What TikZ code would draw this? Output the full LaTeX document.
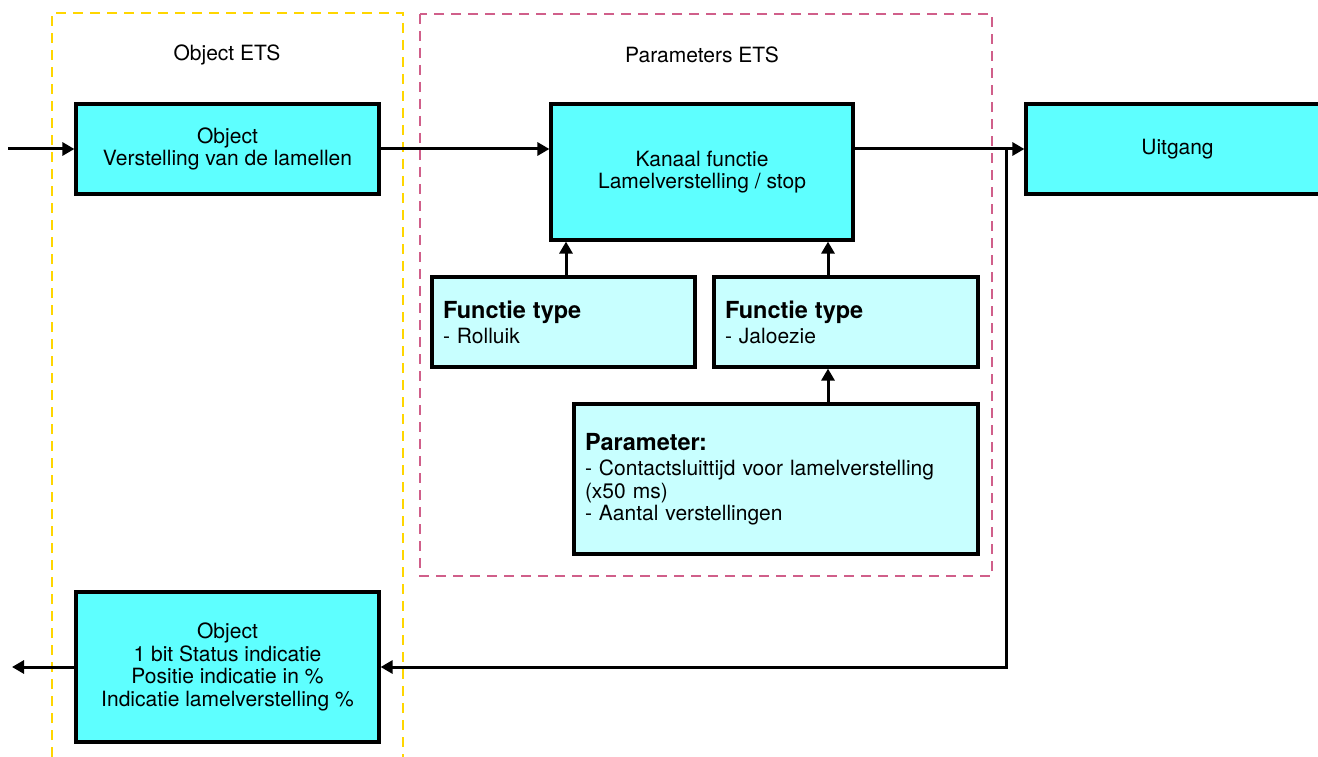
\documentclass[tikz,border=0pt]{standalone}
\usepackage{fontspec}
\setmainfont{TeX Gyre Heros}
\usetikzlibrary{arrows.meta}
\definecolor{cyanA}{RGB}{94,255,255}
\definecolor{cyanB}{RGB}{200,255,255}
\definecolor{ylw}{RGB}{255,214,0}
\definecolor{pnk}{RGB}{208,95,138}
\tikzset{
  base/.style={draw=black, line width=3.2pt, font=\fontsize{21}{22.5}\selectfont, inner sep=0pt},
  dark/.style={base, fill=cyanA, align=center},
  light/.style={base, fill=cyanB, align=left, inner xsep=11pt},
  conn/.style={line width=3pt, -{Triangle[length=12pt,width=13pt]}},
  ybox/.style={draw=ylw, line width=2.6pt, dash pattern=on 10pt off 7pt},
  pbox/.style={draw=pnk, line width=2.6pt, dash pattern=on 10pt off 7pt},
  title/.style={font=\fontsize{21}{22.5}\selectfont, inner sep=0pt}
}
\newcommand{\hdr}[1]{{\fontsize{23.5}{25}\selectfont\bfseries #1}}
\begin{document}
\begin{tikzpicture}[x=1pt,y=-1pt]
\useasboundingbox (0,0) rectangle (1318,757);
\fill[white] (0,0) rectangle (1318,757);
% dashed frames
\draw[ybox] (52,757) -- (52,13) -- (403,13) -- (403,757);
\draw[pbox] (420,14) rectangle (992,576);
\node[title] (t1) at (227,55) {Object ETS};
\node[title] (t2) at (702,55) {Parameters ETS};
% boxes
\node[dark, minimum width=303pt, minimum height=90pt] (obj1) at (227.5,149) {Object\\Verstelling van de lamellen};
\node[dark, minimum width=302pt, minimum height=136pt] (kan) at (702,172) {Kanaal functie\\Lamelverstelling / stop};
\node[dark, minimum width=303pt, minimum height=90pt] (uit) at (1177.5,149) {Uitgang};
\node[light, minimum width=263pt, text width=241pt, minimum height=90pt] (rol) at (563.5,322) {\hdr{Functie type}\\[2.5pt]- Rolluik};
\node[light, minimum width=264pt, text width=242pt, minimum height=90pt] (jal) at (846,322) {\hdr{Functie type}\\[2.5pt]- Jaloezie};
\node[light, minimum width=404pt, text width=382pt, minimum height=150pt] (par) at (776,479) {\hdr{Parameter:}\\[3pt]- Contactsluittijd voor lamelverstelling\\(x50 ms)\\- Aantal verstellingen};
\node[dark, minimum width=303pt, minimum height=150pt] (obj2) at (227.5,667) {Object\\1 bit Status indicatie\\Positie indicatie in \%\\Indicatie lamelverstelling \%};
% connectors
\coordinate (in) at (8,149);
\coordinate (out) at (12,667);
\coordinate (br) at (1006,149);
\draw[conn] (in) -- (obj1.west);
\draw[conn] (obj1.east) -- (obj1.east -| kan.west);
\draw[conn] (obj1.east -| kan.east) -- (uit.west);
\draw[conn] (br) |- (obj2.east);
\draw[conn] (obj2.west) -- (out);
\draw[conn] ([xshift=2.5pt]rol.north) -- ([xshift=2.5pt]rol.north |- kan.south);
\draw[conn] ([xshift=-18pt]jal.north) -- ([xshift=-18pt]jal.north |- kan.south);
\draw[conn] ([xshift=52pt]par.north) -- ([xshift=52pt]par.north |- jal.south);
\end{tikzpicture}
\end{document}
